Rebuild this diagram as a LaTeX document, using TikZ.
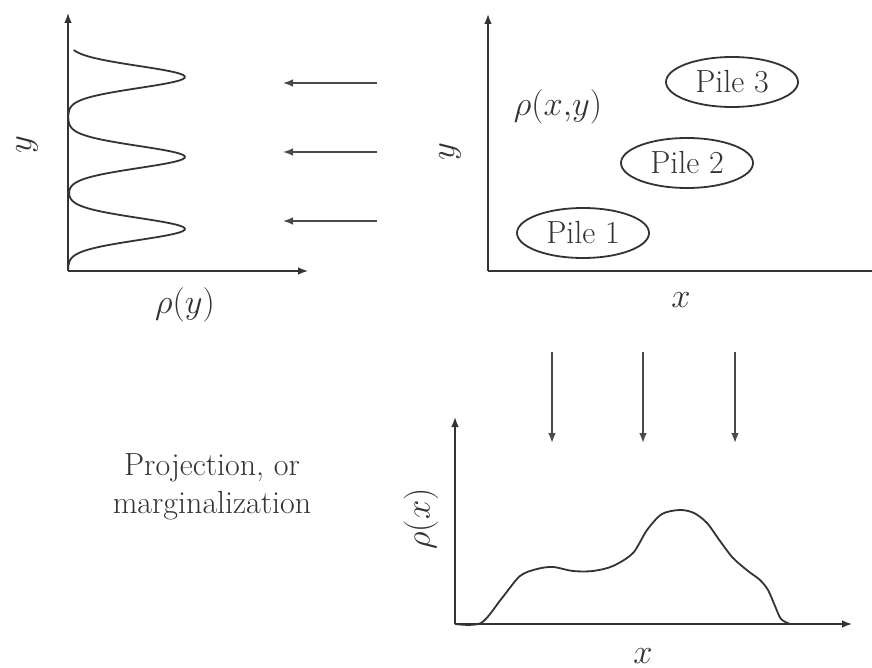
\documentclass[tikz,border=0pt]{standalone}
\usepackage{xcolor}
\usepackage{amsmath}
\usepackage{tikz}
\usetikzlibrary{arrows.meta,positioning,shapes.geometric}
\definecolor{Pencil}{HTML}{333333}
\definecolor{Graphite}{HTML}{4A4A4A}
\tikzset{
  axis/.style={-{Latex[length=5pt,width=3.8pt]}, line width=0.8pt, draw=Pencil},
  proj/.style={-{Latex[length=5pt,width=3.8pt]}, line width=0.8pt, draw=Graphite},
  curve/.style={line width=0.9pt, draw=Pencil},
  pile/.style={ellipse, draw=Pencil, line width=0.9pt, minimum width=66pt, minimum height=25pt, inner sep=0pt, text=Pencil, font=\fontsize{16}{19}\selectfont},
  lab/.style={text=Pencil, font=\fontsize{16}{19}\selectfont}
}

\begin{document}
\begin{tikzpicture}[x=0.5pt, y=-0.5pt]
  \useasboundingbox (0,0) rectangle (872,668);
  % marginal in y
  \coordinate (lo) at (68,271);
  \coordinate (ly) at (68,13);
  \coordinate (lx) at (308,271);
  \draw[axis] (lo) -- (ly);
  \draw[axis] (lo) -- (lx);
  \draw[curve] plot[domain=50:270, samples=160, variable=\t]
    ({68+117*(exp(-min(((\t-77)/11)^2/2,20))+exp(-min(((\t-157)/11)^2/2,20))+exp(-min(((\t-229)/11)^2/2,20)))}, \t);
  \node[lab, rotate=90] (ylab) at (27,145) {$y$};
  \node[lab] (rhoy) at (185,305) {$\rho(y)$};
  \foreach \i/\yy in {1/83, 2/152, 3/221} {
    \coordinate (tail\i) at (377,\yy);
    \coordinate (tip\i) at (283,\yy);
    \draw[proj] (tail\i) -- (tip\i);
  }
  % joint density
  \coordinate (ro) at (488,271);
  \coordinate (ry) at (488,14);
  \coordinate (rx) at (872,271);
  \draw[axis] (ro) -- (ry);
  \draw[curve] (ro) -- (rx);
  \node[pile] (pile3) at (732,82) {Pile 3};
  \node[pile] (pile2) at (687,163) {Pile 2};
  \node[pile] (pile1) at (583,233) {Pile 1};
  \node[lab] (rhoxy) at (558,107) {$\rho(x{,}y)$};
  \node[lab, rotate=90] (ylab2) at (450,152) {$y$};
  \node[lab] (xlab) at (681,300) {$x$};
  \foreach \i/\xx in {1/552, 2/643, 3/735} {
    \coordinate (top\i) at (\xx,352);
    \coordinate (bot\i) at (\xx,443);
    \draw[proj] (top\i) -- (bot\i);
  }
  % marginal in x
  \coordinate (bo) at (455,624);
  \coordinate (by) at (455,417);
  \coordinate (bx) at (852,624);
  \draw[axis] (bo) -- (by);
  \draw[axis] (bo) -- (bx);
  \draw[curve] plot[smooth] coordinates {(455,624) (481,623) (502,598) (520,576) (537,569) (553,567) (573,571) (593,571) (613,566) (633,553) (647,530) (662,514) (680,510) (694,513) (707,523) (720,541) (733,558) (748,571) (760,580) (768,590) (775,606) (781,619) (790,624)};
  \node[lab, rotate=90] (rhox) at (421,519) {$\rho(x)$};
  \node[lab] (xlab2) at (643,656) {$x$};
  \node[lab, align=center] (note) at (212,487) {Projection, or\\marginalization};
\end{tikzpicture}
\end{document}
